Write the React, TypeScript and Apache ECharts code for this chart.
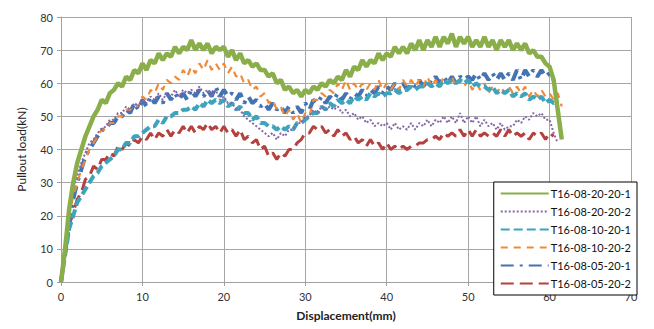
import React, { useEffect, useRef } from "react";
import * as echarts from "echarts";

const displacement: number[] = [];
for (let i = 0; i <= 123; i++) displacement.push(i * 0.5);

const seriesNames = [
  "T16-08-20-20-1",
  "T16-08-20-20-2",
  "T16-08-10-20-1",
  "T16-08-10-20-2",
  "T16-08-05-20-1",
  "T16-08-05-20-2",
];

const load_20_20_1 = [
  0, 10, 22, 30, 36, 40, 44, 47, 50, 52, 55, 54, 57, 58, 60, 59, 62, 61, 64, 63,
  66, 64, 67, 66, 69, 67, 69, 68, 71, 69, 71, 70, 73, 70, 72, 70, 72, 69, 71, 70,
  71, 68, 70, 67, 69, 66, 67, 65, 66, 64, 64, 62, 63, 60, 61, 58, 59, 57, 58, 56,
  58, 57, 59, 58, 60, 59, 61, 60, 62, 61, 64, 62, 65, 64, 67, 65, 67, 66, 69, 67,
  69, 68, 71, 69, 71, 69, 72, 70, 73, 70, 73, 71, 74, 71, 74, 72, 75, 71, 74, 72,
  74, 71, 73, 71, 74, 71, 73, 70, 73, 71, 73, 70, 72, 70, 72, 69, 70, 68, 68, 66,
  65, 61, 52, 43,
];

const load_20_20_2 = [
  0, 12, 20, 28, 32, 36, 39, 42, 43, 45, 46, 47, 49, 49, 51, 51, 53, 52, 54, 53,
  55, 54, 56, 55, 57, 55, 57, 56, 58, 56, 58, 57, 58, 57, 59, 57, 58, 56, 58, 55,
  56, 54, 54, 52, 52, 50, 49, 48, 47, 46, 45, 44, 45, 43, 45, 44, 46, 46, 48, 48,
  50, 50, 52, 51, 53, 52, 53, 52, 53, 51, 52, 50, 51, 49, 50, 48, 49, 47, 48, 47,
  48, 46, 48, 46, 47, 46, 48, 46, 48, 47, 49, 47, 49, 48, 50, 48, 50, 48, 51, 48,
  50, 48, 50, 47, 49, 47, 48, 46, 48, 46, 47, 47, 49, 48, 50, 49, 51, 50, 51, 49,
  49, 45, 42,
];

const load_10_20_1 = [
  0, 8, 16, 20, 24, 26, 28, 30, 32, 33, 35, 36, 37, 38, 40, 40, 42, 42, 44, 44,
  45, 46, 47, 47, 49, 48, 50, 50, 51, 51, 52, 52, 53, 52, 54, 53, 55, 54, 55, 54,
  55, 53, 54, 52, 53, 51, 51, 49, 50, 48, 48, 47, 47, 46, 47, 46, 47, 46, 48, 48,
  49, 50, 51, 51, 53, 52, 54, 53, 55, 54, 55, 54, 56, 55, 56, 55, 57, 56, 57, 56,
  57, 57, 58, 57, 58, 58, 59, 58, 59, 59, 60, 59, 60, 59, 61, 60, 61, 60, 61, 60,
  61, 59, 60, 59, 59, 58, 59, 57, 58, 57, 58, 56, 57, 56, 57, 55, 56, 55, 56, 54,
  55, 54, 55,
];

const load_10_20_2 = [
  0, 10, 20, 26, 30, 34, 37, 40, 42, 44, 46, 46, 48, 48, 50, 50, 52, 52, 54, 53,
  56, 55, 58, 57, 60, 58, 61, 60, 62, 61, 64, 62, 65, 63, 66, 64, 67, 64, 66, 64,
  66, 63, 65, 62, 63, 60, 61, 58, 59, 56, 57, 54, 55, 52, 53, 50, 52, 49, 51, 48,
  51, 50, 55, 55, 57, 56, 58, 57, 60, 58, 61, 58, 60, 58, 60, 58, 60, 58, 61, 58,
  60, 58, 60, 58, 61, 59, 61, 59, 61, 59, 62, 59, 61, 59, 62, 60, 62, 59, 61, 59,
  61, 58, 60, 58, 60, 57, 59, 57, 59, 57, 59, 57, 59, 57, 59, 56, 58, 56, 58, 56,
  57, 55, 57, 53,
];

const load_05_20_1 = [
  0, 9, 17, 25, 30, 34, 38, 40, 42, 44, 46, 46, 48, 48, 50, 50, 52, 51, 54, 52,
  55, 53, 56, 54, 56, 54, 57, 55, 57, 55, 57, 55, 58, 56, 58, 56, 58, 56, 59, 56,
  58, 56, 57, 55, 57, 54, 56, 54, 55, 53, 54, 52, 54, 52, 53, 51, 53, 51, 53, 51,
  54, 52, 55, 54, 56, 54, 56, 55, 57, 55, 57, 55, 57, 56, 58, 56, 58, 57, 59, 57,
  59, 58, 60, 58, 60, 58, 60, 59, 61, 59, 61, 60, 62, 60, 62, 60, 62, 60, 62, 61,
  62, 61, 63, 61, 63, 61, 63, 61, 63, 61, 63, 61, 64, 61, 64, 62, 64, 62, 64, 62,
  63, 61,
];

const load_05_20_2 = [
  0, 10, 17, 21, 25, 27, 31, 32, 35, 34, 37, 37, 39, 38, 41, 40, 42, 41, 43, 42,
  44, 43, 45, 43, 45, 44, 46, 44, 46, 45, 47, 45, 47, 45, 47, 46, 48, 46, 47, 45,
  47, 45, 46, 44, 46, 43, 44, 42, 43, 40, 41, 38, 39, 37, 39, 38, 40, 40, 42, 43,
  45, 45, 47, 46, 47, 45, 46, 44, 46, 44, 45, 43, 44, 42, 43, 41, 43, 41, 42, 40,
  42, 40, 41, 40, 41, 40, 41, 41, 42, 42, 43, 43, 44, 43, 45, 44, 45, 44, 46, 44,
  46, 44, 46, 44, 45, 44, 45, 44, 46, 44, 46, 44, 45, 44, 45, 43, 45, 44, 45, 43,
  45, 44,
];

const xTicks = { min: 0, max: 70, interval: 10 };
const yTicks = { min: 0, max: 80, interval: 10 };

const pair = (ys: number[]) => ys.map((y, i) => [displacement[i], y]);

const FONT = "Lato, 'Liberation Sans', sans-serif";

export default function App() {
  const ref = useRef<HTMLDivElement>(null);
  useEffect(() => {
    if (!ref.current) return;
    const chart = echarts.init(ref.current, undefined, { renderer: "svg" });
    const styles = [
      { color: "#8AAE4A", width: 4.5, type: "solid" as any },
      { color: "#8568A8", width: 2, type: [2, 2] as any },
      { color: "#3FA3BE", width: 4, type: [9, 4] as any },
      { color: "#EE8B3B", width: 2.2, type: [7, 6] as any },
      { color: "#4473B4", width: 4, type: [13, 6, 3, 6] as any },
      { color: "#B5403D", width: 3, type: [13, 6] as any },
    ];
    const data = [
      load_20_20_1,
      load_20_20_2,
      load_10_20_1,
      load_10_20_2,
      load_05_20_1,
      load_05_20_2,
    ];
    const order = [5, 4, 3, 2, 1, 0];
    chart.setOption({
      animation: false,
      textStyle: { fontFamily: FONT },
      grid: { left: 61, right: 23, top: 17, bottom: 47 },
      legend: {
        orient: "vertical",
        right: 17,
        top: 182,
        itemWidth: 48,
        itemHeight: 10,
        itemGap: 7,
        padding: [6, 6, 6, 6],
        borderColor: "#000",
        borderWidth: 1,
        backgroundColor: "#fff",
        itemStyle: { opacity: 0 },
        data: seriesNames,
        textStyle: { fontFamily: FONT, fontSize: 11, color: "#111", padding: [0, 0, 0, -3] },
      },
      xAxis: {
        type: "value",
        ...xTicks,
        name: "Displacement(mm)",
        nameLocation: "middle",
        nameGap: 27,
        nameTextStyle: { fontFamily: FONT, fontSize: 12, fontWeight: "bold", color: "#222" },
        axisLine: { lineStyle: { color: "#A0A0A0" } },
        axisTick: { show: true, length: 4, lineStyle: { color: "#A0A0A0" } },
        axisLabel: { fontSize: 11, color: "#333", fontFamily: FONT, margin: 9 },
        splitLine: { lineStyle: { color: "#A6A6A6", width: 1 } },
      },
      yAxis: {
        type: "value",
        ...yTicks,
        name: "Pullout load(kN)",
        nameLocation: "middle",
        nameGap: 34,
        nameTextStyle: { fontFamily: FONT, fontSize: 12, color: "#222" },
        axisLine: { show: true, lineStyle: { color: "#A0A0A0" } },
        axisTick: { show: true, length: 4, lineStyle: { color: "#A0A0A0" } },
        axisLabel: { fontSize: 11, color: "#333", fontFamily: FONT, margin: 8 },
        splitLine: { lineStyle: { color: "#A6A6A6", width: 1 } },
      },
      series: order.map((k) => ({
        name: seriesNames[k],
        type: "line",
        data: pair(data[k]),
        showSymbol: false,
        symbol: "none",
        z: 10 - k,
        lineStyle: { ...styles[k] },
        itemStyle: { color: styles[k].color },
      })),
    });
    return () => chart.dispose();
  }, []);
  return <div ref={ref} style={{ width: 654, height: 329, position: "absolute", left: 0, top: 0 }} />;
}
